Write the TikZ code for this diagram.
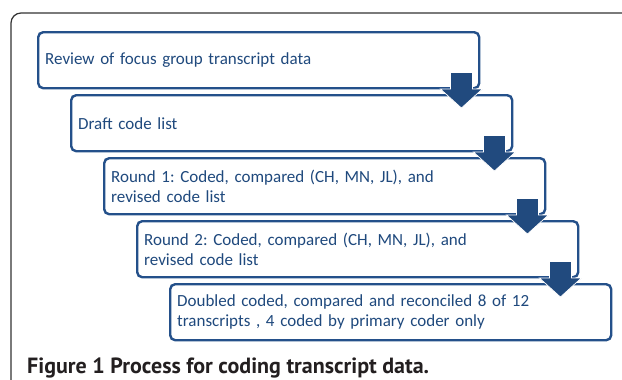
\documentclass[tikz,border=0pt]{standalone}
\usepackage{fontspec}
\setmainfont{Carlito}
\newfontfamily\capfont{PT Sans}
\usetikzlibrary{calc}
\definecolor{boxblue}{HTML}{24508A}
\definecolor{arrblue}{HTML}{214A7E}
\definecolor{txtblue}{HTML}{1F497D}
\definecolor{capgray}{HTML}{231F20}
\frenchspacing
\tikzset{
  stepbox/.style={draw=boxblue, line width=2.4pt, rounded corners=5pt, fill=white,
    minimum width=441pt, minimum height=56pt, text width=427pt, inner xsep=7pt,
    align=left, anchor=north west, text=txtblue, font=\fontsize{17}{20}\selectfont},
  blockarrow/.style={fill=arrblue, draw=white, line width=0.7pt},
  frame/.style={draw=black!80, line width=1.2pt, rounded corners=10pt}
}
\begin{document}
\begin{tikzpicture}[x=1pt,y=-1pt]
\clip (0,0) rectangle (622,380);
\fill[white] (0,0) rectangle (622,380);
\draw[frame] (11,420) -- (11,13) -- (660,13);
\node[stepbox] (b1) at (37,31) {Review of focus group transcript data};
\node[stepbox] (b2) at (70,94) {Draft code list};
\node[stepbox] (b3) at (103,157) {Round 1: Coded, compared (CH, MN, JL), and\\revised code list};
\node[stepbox] (b4) at (136,220) {Round 2: Coded, compared (CH, MN, JL), and\\revised code list};
\node[stepbox] (b5) at (169,283) {Doubled coded, compared and reconciled 8 of 12\\transcripts , 4 coded by primary coder only};
\foreach \a/\b in {b1/b2,b2/b3,b3/b4,b4/b5}{
  \path[blockarrow] let \p1=(\a.south east), \p2=(\b.north) in
    (\x1-30pt,\y1+17pt) -- (\x1-8pt,\y1+17pt) -- (\x1-8pt,\y2+5pt) -- (\x1+2pt,\y2+5pt)
    -- (\x1-19pt,\y2-14pt) -- (\x1-40pt,\y2+5pt) -- (\x1-30pt,\y2+5pt) -- cycle;
}
\node[anchor=base west, text=capgray, font=\capfont\bfseries\fontsize{22}{26}\selectfont, inner sep=0pt] (cap) at (27,373) {Figure 1 Process for coding transcript data.};
\end{tikzpicture}
\end{document}
